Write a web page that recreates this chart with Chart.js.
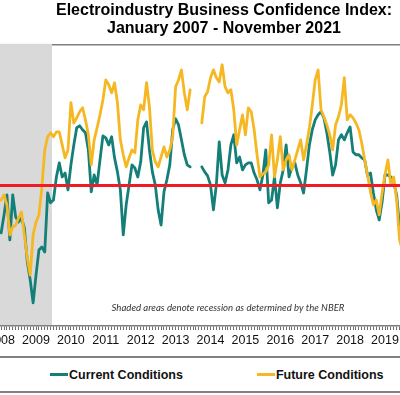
<!DOCTYPE html>
<html>
<head>
<meta charset="utf-8">
<script src="https://cdn.jsdelivr.net/npm/chart.js@4.4.1/dist/chart.umd.min.js"></script>
<style>
  html, body { margin: 0; padding: 0; background: #fff; overflow: hidden; width: 400px; height: 395px; }
  #wrap { position: relative; margin-left: -20px; width: 488px; }
  #ebci { display: block; }
  #legend {
    margin-top: 5px;
    height: 33px;
    border-top: 2px solid #808080;
    border-bottom: 2px solid #808080;
    display: flex;
    align-items: center;
    padding-left: 70px;
    gap: 74px;
    font: bold 12.5px "Liberation Sans", Arial, sans-serif;
    color: #111;
  }
  #legend .item { display: flex; align-items: center; }
  #legend .swatch { width: 18px; height: 3px; margin-right: 1px; }
</style>
</head>
<body>
<div id="wrap">
  <canvas id="ebci" width="488" height="351"></canvas>
  <div id="legend"></div>
</div>
<script>
const titleLines = ['Electroindustry Business Confidence Index:', 'January 2007 - November 2021'];
const seriesNames = ['Current Conditions', 'Future Conditions'];
const noteText = 'Shaded areas denote recession as determined by the NBER';
const recessions = [['2007-12', '2009-06']];
const neutralLevel = 50;

// monthly readings, Jan 2008 - Jul 2019 (Jul-Sep 2013 missing)
const currentConditions = [
  33.1, 39.5, 46.6, 30.6, 46.6, 38.8, 37.0, 38.4, 34.9, 22.8, 16.4, 8.2,
  18.1, 27.0, 28.1, 26.3, 47.3, 43.8, 44.8, 53.0, 58.0, 53.0, 54.4, 48.4,
  57.3, 64.4, 70.5, 71.2, 69.8, 68.7, 62.6, 47.7, 53.7, 50.2, 59.1, 67.6,
  66.9, 64.4, 67.3, 59.8, 54.8, 48.4, 32.4, 43.1, 50.2, 57.3, 56.2, 53.0,
  58.4, 70.5, 72.6, 62.6, 54.8, 50.2, 41.3, 35.9, 47.7, 52.0, 57.3, 69.8,
  73.7, 71.5, 66.2, 60.9, 57.3, 56.6, null, null, null, 56.6, 54.8, 53.4,
  50.2, 41.3, 50.2, 65.5, 53.7, 50.9, 55.5, 64.4, 68.0, 58.0, 60.1, 55.5,
  57.3, 58.0, 58.0, 54.4, 52.0, 48.4, 53.7, 62.6, 43.8, 44.8, 53.0, 42.0,
  50.9, 55.5, 64.4, 53.0, 56.6, 58.0, 53.7, 50.9, 47.3, 55.5, 64.4, 69.8,
  73.3, 75.1, 76.2, 74.0, 68.7, 61.9, 53.7, 57.3, 66.2, 68.0, 66.2, 68.7,
  70.8, 61.9, 60.9, 60.9, 59.8, 59.1, 53.4, 54.4, 47.3, 41.3, 37.7, 44.1,
  53.7, 53.7, 53.0, 50.9, 46.6, 35.2, 32.4
];
const futureConditions = [
  44.8, 46.6, 43.1, 32.4, 35.2, 35.9, 38.4, 40.6, 32.4, 24.2, 18.1, 32.4,
  37.0, 39.5, 49.1, 62.6, 67.3, 68.7, 67.3, 69.0, 69.0, 64.4, 59.8, 62.6,
  79.4, 72.2, 74.0, 76.2, 77.6, 73.3, 68.0, 57.3, 66.2, 70.5, 75.1, 80.4,
  87.5, 85.8, 82.9, 86.5, 79.4, 66.2, 60.9, 56.6, 59.8, 62.6, 61.6, 73.3,
  78.6, 76.9, 86.5, 77.9, 62.6, 58.4, 56.6, 60.1, 63.7, 60.1, 62.6, 67.3,
  85.1, 87.5, 91.1, 82.9, 76.9, 84.0, null, null, null, 72.2, 81.5, 83.3,
  88.3, 91.1, 88.3, 86.8, 92.9, 85.1, 82.9, 84.0, 76.9, 64.4, 69.8, 75.1,
  68.0, 77.6, 76.2, 69.8, 60.9, 53.0, 54.1, 54.8, 57.3, 68.0, 53.0, 59.1,
  67.3, 55.5, 59.1, 60.9, 55.5, 59.1, 62.6, 66.2, 59.1, 64.4, 70.5, 78.6,
  87.5, 91.1, 76.9, 74.4, 71.5, 68.0, 62.6, 71.5, 74.4, 78.6, 88.3, 73.3,
  75.1, 74.0, 72.2, 69.8, 65.1, 59.1, 53.7, 47.7, 43.1, 44.8, 39.5, 47.3,
  53.7, 59.1, 50.2, 53.0, 44.8, 30.6, 27.0
];

const firstYear = 2008;
const months = currentConditions.map((_, i) =>
  `${firstYear + Math.floor(i / 12)}-${String(i % 12 + 1).padStart(2, '0')}`);

function toYear(m) {
  const [y, mo] = m.split('-').map(Number);
  return y + (mo - 1) / 12;
}

const xMin = 2007.395, xMax = 2021.378;

Chart.defaults.font.family = '"Liberation Sans", Arial, sans-serif';

const chartDecor = {
  id: 'chartDecor',
  beforeDatasetsDraw(chart) {
    const { ctx, chartArea: a, scales: { x } } = chart;
    ctx.save();
    ctx.strokeStyle = '#7f7f7f';
    ctx.lineWidth = 1.5;
    ctx.beginPath();
    ctx.moveTo(a.left, a.top);
    ctx.lineTo(a.right, a.top);
    ctx.stroke();
    ctx.fillStyle = '#d9d9d9';
    recessions.forEach(([s, e]) => {
      const x0 = Math.max(x.getPixelForValue(toYear(s)), a.left);
      const x1 = x.getPixelForValue(toYear(e) + 0.5 / 12);
      ctx.fillRect(x0, a.top - 1, x1 - x0, a.bottom - a.top);
    });
    ctx.restore();
  },
  afterDatasetsDraw(chart) {
    const { ctx, chartArea: a, scales: { y } } = chart;
    const yPix = y.getPixelForValue(neutralLevel);
    ctx.save();
    ctx.strokeStyle = '#ee1c24';
    ctx.lineWidth = 3;
    ctx.beginPath();
    ctx.moveTo(a.left, yPix);
    ctx.lineTo(a.right, yPix);
    ctx.stroke();
    ctx.font = 'italic 9.6px Lato, "Open Sans", sans-serif';
    ctx.fillStyle = '#333';
    ctx.textAlign = 'center';
    ctx.textBaseline = 'middle';
    ctx.fillText(noteText, (a.left + a.right) / 2 + 4, a.bottom - 18);
    ctx.restore();
  }
};

const ctx = document.getElementById('ebci').getContext('2d');
const ebciChart = new Chart(ctx, {
  type: 'line',
  data: {
    datasets: [{
      label: seriesNames[0],
      data: months.map((m, i) => ({ x: toYear(m), y: currentConditions[i] })),
      borderColor: '#137f78',
      borderWidth: 2.8,
      order: 1
    }, {
      label: seriesNames[1],
      data: months.map((m, i) => ({ x: toYear(m), y: futureConditions[i] })),
      borderColor: '#f5b822',
      borderWidth: 2.8,
      order: 0
    }]
  },
  options: {
    responsive: false,
    animation: false,
    events: [],
    layout: { padding: 0 },
    elements: {
      point: { radius: 0 },
      line: { tension: 0, borderJoinStyle: 'round', borderCapStyle: 'round' }
    },
    spanGaps: false,
    plugins: {
      legend: { display: false },
      tooltip: { enabled: false },
      title: {
        display: true,
        text: titleLines,
        color: '#000',
        font: { size: 16, weight: 'bold', lineHeight: 1.15 },
        padding: { top: 1, bottom: 7 }
      }
    },
    scales: {
      x: {
        type: 'linear',
        min: xMin,
        max: xMax,
        bounds: 'data',
        afterBuildTicks(axis) {
          const ticks = [];
          for (let k = Math.ceil((xMin + 0.1) * 12); k / 12 <= xMax - 0.1; k++) {
            ticks.push({ value: k / 12 });
          }
          axis.ticks = ticks;
        },
        ticks: {
          autoSkip: false,
          maxRotation: 0,
          padding: 3,
          color: '#111',
          font: { size: 12.5 },
          callback: (v) => Math.abs(v - Math.round(v)) < 1e-6 ? String(Math.round(v)) : ''
        },
        grid: { drawOnChartArea: false, tickLength: 4, color: '#6e6e6e', lineWidth: 1 },
        border: { display: true, color: '#7f7f7f', width: 1.5 }
      },
      y: {
        display: false,
        min: 0,
        max: 100
      }
    }
  },
  plugins: [chartDecor]
});

const legend = document.getElementById('legend');
ebciChart.data.datasets.forEach(ds => {
  const item = document.createElement('div');
  item.className = 'item';
  const sw = document.createElement('span');
  sw.className = 'swatch';
  sw.style.background = ds.borderColor;
  const label = document.createElement('span');
  label.textContent = ds.label;
  item.appendChild(sw);
  item.appendChild(label);
  legend.appendChild(item);
});
</script>
</body>
</html>
